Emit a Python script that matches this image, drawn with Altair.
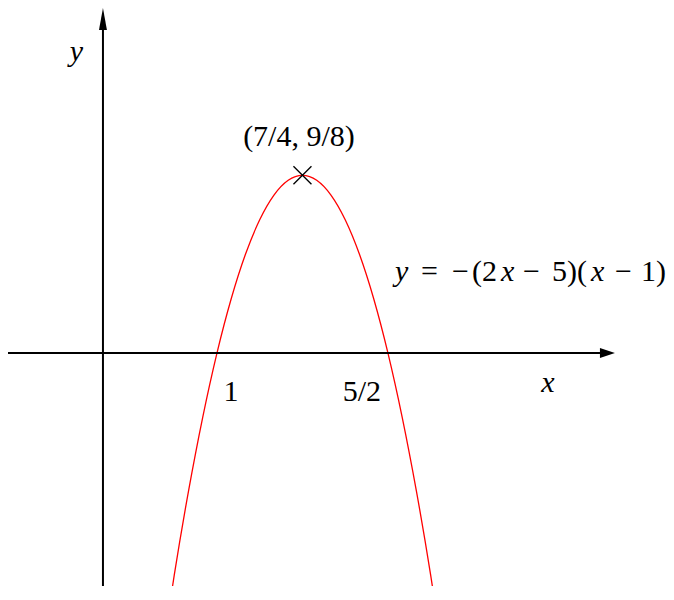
import altair as alt
import pandas as pd

# ---- data ----
curve_x = [0.5, 0.625, 0.75, 0.875, 1.0, 1.125, 1.25, 1.375, 1.5, 1.625, 1.75,
           1.875, 2.0, 2.125, 2.25, 2.375, 2.5, 2.625, 2.75, 2.875, 3.0]
curve_y = [-2.0, -1.40625, -0.875, -0.40625, 0.0, 0.34375, 0.625, 0.84375, 1.0, 1.09375, 1.125,
           1.09375, 1.0, 0.84375, 0.625, 0.34375, 0.0, -0.40625, -0.875, -1.40625, -2.0]
roots = [1.0, 2.5]
root_labels = ["1", "5/2"]
vertex_x = [1.75]
vertex_y = [1.125]
vertex_label = ["(7/4, 9/8)"]
x_range = [-0.833, 4.939]
y_range = [-1.474, 2.184]
x_arrow_tip = 4.491
eq_segments = ["y", "=", "\u2212", "(2", "x", "\u2212", "5)(", "x", "\u2212", "1)"]
eq_italic = [True, False, False, False, True, False, False, True, False, False]

W, H = 658, 578
xs = alt.Scale(domain=x_range, nice=False, zero=False)
ys = alt.Scale(domain=y_range, nice=False, zero=False)
FONT = "Liberation Serif"
FS = 30

def X(f):
    return alt.X(f, type="quantitative", scale=xs, axis=None)

def Y(f):
    return alt.Y(f, type="quantitative", scale=ys, axis=None)

curve_df = pd.DataFrame({"x": curve_x, "y": curve_y})
curve = alt.Chart(curve_df).mark_line(color="red", strokeWidth=1.3, interpolate="natural", clip=True).encode(
    x=X("x"), y=Y("y"))

# axes
yaxis_df = pd.DataFrame({"x": [0.0], "y0": [y_range[0]], "y1": [y_range[1] - 12 / 158]})
yaxis = alt.Chart(yaxis_df).mark_rule(color="black", strokeWidth=2).encode(
    x=X("x"), y=Y("y0"), y2="y1:Q")
xaxis_df = pd.DataFrame({"y": [0.0], "x0": [x_range[0]], "x1": [x_arrow_tip - 8 / 114]})
xaxis = alt.Chart(xaxis_df).mark_rule(color="black", strokeWidth=2).encode(
    y=Y("y"), x=X("x0"), x2="x1:Q")

yarrow = alt.Chart(pd.DataFrame({"x": [0.0], "y": [y_range[1]]})).mark_point(
    shape="M0,0L0.36,2L-0.36,2Z", size=484, filled=True, color="black", opacity=1, strokeWidth=0
).encode(x=X("x"), y=Y("y"))
xarrow = alt.Chart(pd.DataFrame({"x": [x_arrow_tip], "y": [0.0]})).mark_point(
    shape="M0,0L-2,-0.67L-2,0.67Z", size=225, filled=True, color="black", opacity=1, strokeWidth=0
).encode(x=X("x"), y=Y("y"))

# vertex marker
vdf = pd.DataFrame({"x": vertex_x, "y": vertex_y, "label": vertex_label})
vmark = alt.Chart(vdf).mark_point(
    shape="M-1,-1L1,1M-1,1L1,-1", size=324, filled=False, color="black", opacity=1, strokeWidth=1.3
).encode(x=X("x"), y=Y("y"))
vtext = alt.Chart(vdf).mark_text(font=FONT, fontSize=FS, align="center", baseline="alphabetic",
                                 dx=-3.5, dy=-29, color="black").encode(x=X("x"), y=Y("y"), text="label:N")

# root labels
rdf = pd.DataFrame({"x": roots, "y": [0.0, 0.0], "label": root_labels})
r1 = alt.Chart(rdf.iloc[[0]]).mark_text(font=FONT, fontSize=FS, align="center", baseline="alphabetic",
                                       dx=14, dy=48, color="black").encode(x=X("x"), y=Y("y"), text="label:N")
r2 = alt.Chart(rdf.iloc[[1]]).mark_text(font=FONT, fontSize=FS, align="center", baseline="alphabetic",
                                       dx=-26, dy=48, color="black").encode(x=X("x"), y=Y("y"), text="label:N")

# axis names
ylab = alt.Chart(pd.DataFrame({"x": [0.0], "y": [y_range[1]], "t": ["y"]})).mark_text(
    font=FONT, fontSize=FS, fontStyle="italic", align="center", baseline="alphabetic",
    dx=-26.5, dy=53, color="black").encode(x=X("x"), y=Y("y"), text="t:N")
xlab = alt.Chart(pd.DataFrame({"x": [x_arrow_tip], "y": [0.0], "t": ["x"]})).mark_text(
    font=FONT, fontSize=FS, fontStyle="italic", align="center", baseline="alphabetic",
    dx=-67, dy=39, color="black").encode(x=X("x"), y=Y("y"), text="t:N")

# equation, built from segments
eq_offsets = [0, 26, 57, 77, 106, 128, 157, 196, 220, 246]
eq_anchor = pd.DataFrame({"x": [2.5], "y": [0.0]})
eq_layers = []
for seg, ital, off in zip(eq_segments, eq_italic, eq_offsets):
    eq_layers.append(
        alt.Chart(eq_anchor).mark_text(
            font=FONT, fontSize=FS, fontStyle="italic" if ital else "normal",
            align="left", baseline="alphabetic", dx=7 + off, dy=-72, color="black", text=seg
        ).encode(x=X("x"), y=Y("y"))
    )

chart = alt.layer(curve, yaxis, xaxis, yarrow, xarrow, vmark, vtext, r1, r2, ylab, xlab, *eq_layers).properties(
    width=W, height=H, padding=0, autosize=alt.AutoSizeParams(type="none")
).configure_view(strokeWidth=0, strokeOpacity=0, fill="white", fillOpacity=0)

chart.save("out.html", embed_options={"renderer": "svg", "actions": False})
